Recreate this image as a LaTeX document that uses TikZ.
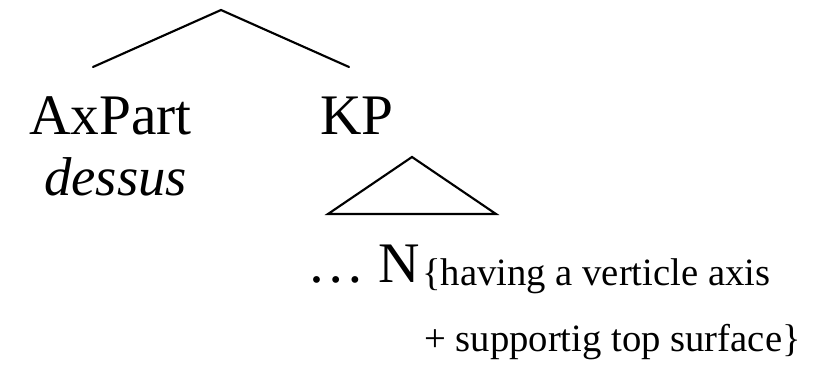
\documentclass[tikz,border=0pt]{standalone}
\usepackage{fontspec}
\setmainfont{Liberation Serif}
\begin{document}
\begin{tikzpicture}[x=0.75pt,y=-0.75pt,
  branch/.style={line width=1.6pt,line cap=round,line join=miter},
  big/.style={inner sep=0pt,anchor=base west,font=\fontsize{43}{48}\selectfont},
  small/.style={inner sep=0pt,anchor=base west,font=\fontsize{29}{32}\selectfont}]
\useasboundingbox (0,0) rectangle (818,367);
\coordinate (top) at (221,10);
\coordinate (lend) at (93,67);
\coordinate (rend) at (349,67);
\coordinate (tapex) at (412,157);
\coordinate (tl) at (328,214);
\coordinate (tr) at (496,214);
\draw[branch] (lend) -- (top) -- (rend);
\draw[branch] (tl) -- (tapex) -- (tr) -- cycle;
\node[big] (axpart) at (29,135) {AxPart};
\node[big] (kp) at (320,135) {KP};
\node[big,font=\fontsize{41}{46}\selectfont] (dessus) at (44,196) {\itshape dessus};
\node[big] (n) at (307,282) {\ldots\ N};
\node[small] (feat1) at (422,286) {\{having a verticle axis};
\node[small] (feat2) at (424,351) {+ supportig top surface\}};
\end{tikzpicture}
\end{document}
